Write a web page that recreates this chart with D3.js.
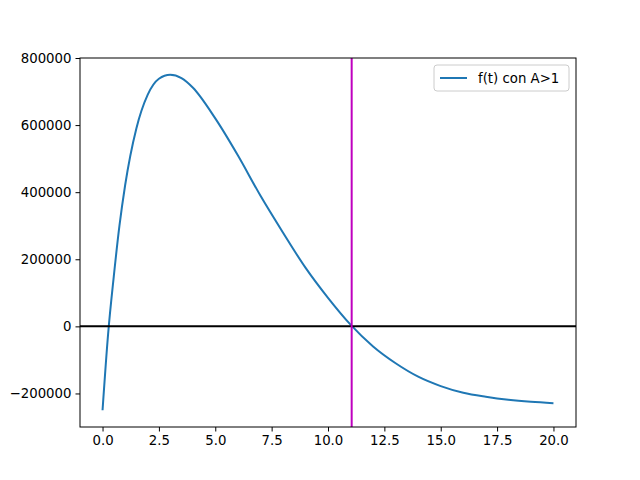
<!DOCTYPE html>
<html><head><meta charset="utf-8">
<script src="https://cdn.jsdelivr.net/npm/d3@7"></script>
<style>body{margin:0;background:#fff}text{font-family:"DejaVu Sans",sans-serif}</style>
</head><body><div id="chart"></div>
<script>
// values
const tValues = [0,0.25,0.5,0.75,1,1.5,2,2.5,3,3.5,4,5,6,7,8,9,10,11,12,13,14,15,16,17,18,19,20];
const fValues = [-250000,-20000,150000,300000,420000,590000,690000,738000,750000,740000,712000,620000,510000,390000,280000,175000,85000,5000,-60000,-110000,-150000,-178000,-198000,-210000,-219000,-225000,-229000];
const xTicks = [0,2.5,5,7.5,10,12.5,15,17.5,20];
const yTicks = [-200000,0,200000,400000,600000,800000];
const rootT = 11.05;

function buildPlot() {
  const svg = d3.select("#chart").append("svg").attr("width",640).attr("height",480);
  const x = d3.scaleLinear().domain([-1,21]).range([80,576]);
  const y = d3.scaleLinear().domain([-300000,800000]).range([427,58]);

  svg.append("g").attr("transform","translate(0,427)")
    .call(d3.axisBottom(x).tickValues(xTicks).tickFormat(d3.format(".1f")).tickSizeOuter(0).tickSize(4.5).tickPadding(4));
  svg.append("g").attr("transform","translate(80,0)")
    .call(d3.axisLeft(y).tickValues(yTicks).tickFormat(d => d < 0 ? "\u2212" + (-d) : d).tickSizeOuter(0).tickSize(4.5).tickPadding(4));
  svg.selectAll(".tick text").attr("font-size",13.3).attr("fill","#000");
  svg.selectAll(".domain").remove();

  const data = tValues.map((t,i) => [t,fValues[i]]);
  svg.append("path").datum(data)
    .attr("d", d3.line().x(d => x(d[0])).y(d => y(d[1])).curve(d3.curveMonotoneX))
    .attr("fill","none").attr("stroke","#1f77b4").attr("stroke-width",2);

  svg.append("line").attr("x1",80).attr("x2",576).attr("y1",y(0)).attr("y2",y(0))
    .attr("stroke","#000").attr("stroke-width",2);
  svg.append("line").attr("x1",x(rootT)).attr("x2",x(rootT)).attr("y1",58).attr("y2",427)
    .attr("stroke","#bf00bf").attr("stroke-width",2);

  svg.append("rect").attr("x",80).attr("y",58).attr("width",496).attr("height",369)
    .attr("fill","none").attr("stroke","#000").attr("stroke-width",1);

  const lg = svg.append("g").attr("transform","translate(434,65)");
  lg.append("rect").attr("width",135).attr("height",26).attr("rx",3)
    .attr("fill","#fff").attr("stroke","#ccc");
  lg.append("line").attr("x1",6).attr("x2",33).attr("y1",13).attr("y2",13)
    .attr("stroke","#1f77b4").attr("stroke-width",2);
  lg.append("text").attr("x",44).attr("y",18).attr("font-size",13.3).text("f(t) con A>1");
}
buildPlot();
</script></body></html>
